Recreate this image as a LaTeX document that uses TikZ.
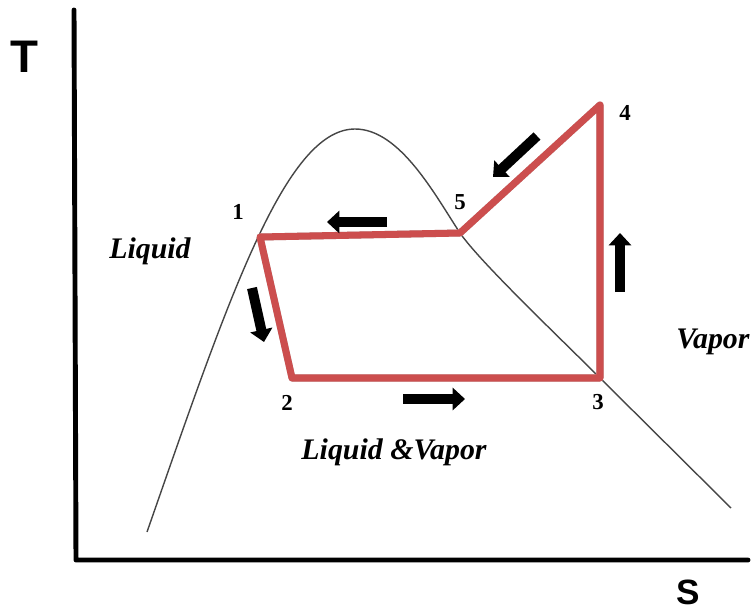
\documentclass[tikz,border=0pt]{standalone}
\usepackage{fontspec}
\setmainfont{Liberation Serif}
\newfontfamily\axisfont{Liberation Sans}
\usepackage{xcolor}
\usepackage{tikz}
\usetikzlibrary{arrows.meta}
\definecolor{cycred}{RGB}{204,78,78}
\definecolor{domegray}{RGB}{70,70,70}

\begin{document}
\begin{tikzpicture}[
      x=0.02cm, y=-0.02cm,
      axis/.style={line width=2.8pt, line cap=round, line join=round},
      dome/.style={domegray, line width=0.8pt},
      cyc/.style={cycred, line width=4pt, line join=round},
      cycshadow/.style={black!25, line width=4pt, line join=round},
      blk/.style={line width=5.7pt, -{Triangle[width=12.5pt, length=7pt]}},
      pt/.style={font=\fontsize{13}{13}\selectfont\bfseries, inner sep=0pt},
      reg/.style={font=\fontsize{17}{17}\selectfont\bfseries\itshape, inner sep=0pt},
      axl/.style={font=\axisfont\bfseries, inner sep=0pt},
  ]
    \useasboundingbox (0,0) rectangle (751,609);

    \draw[axis] (74,10) -- (76,560) -- (748,560);
    \node[axl, font=\axisfont\bfseries\fontsize{26}{26}\selectfont] (tl) at (24,57) {T};
    \node[axl, font=\axisfont\bfseries\fontsize{20}{20}\selectfont] (sl) at (688,592) {S};

    \coordinate (dl) at (147,532);
    \coordinate (dtop) at (355,129);
    \coordinate (dr) at (731,508);
    \coordinate (p1) at (260,237);
    \coordinate (p2) at (292,378);
    \coordinate (p3) at (600,378);
    \coordinate (p4) at (600,105);
    \coordinate (p5) at (460,233);

    \draw[dome] (dl) .. controls (228,300) and (285,129) .. (dtop)
      .. controls (400,129) and (435,195) .. (p5)
      .. controls (480,262) and (560,338) .. (p3) -- (dr);

    \draw[cycshadow, shift={(2,3)}] (p1) -- (p2) -- (p3) -- (p4) -- (p5) -- cycle;
    \draw[cyc] (p1) -- (p2) -- (p3) -- (p4) -- (p5) -- cycle;

    \node[pt] (n1) at (238,212) {1};
    \node[pt] (n2) at (287,403) {2};
    \node[pt] (n3) at (598,402) {3};
    \node[pt] (n4) at (625,113) {4};
    \node[pt] (n5) at (460,202) {5};

    \node[reg] (liq) at (150,251) {Liquid};
    \node[reg] (vap) at (713,342) {Vapor};
    \node[reg] (lv) at (394,452) {Liquid \&Vapor};

    \coordinate (a51s) at (387,222);
    \coordinate (a51e) at (327,222);
    \coordinate (a12s) at (252,288);
    \coordinate (a12e) at (264,342);
    \coordinate (a23s) at (403,399);
    \coordinate (a23e) at (465,399);
    \coordinate (a34s) at (620,292);
    \coordinate (a34e) at (620,233);
    \coordinate (a45s) at (537,136);
    \coordinate (a45e) at (493,177);

    \draw[blk] (a51s) -- (a51e);
    \draw[blk] (a12s) -- (a12e);
    \draw[blk] (a23s) -- (a23e);
    \draw[blk] (a34s) -- (a34e);
    \draw[blk] (a45s) -- (a45e);
\end{tikzpicture}
\end{document}
